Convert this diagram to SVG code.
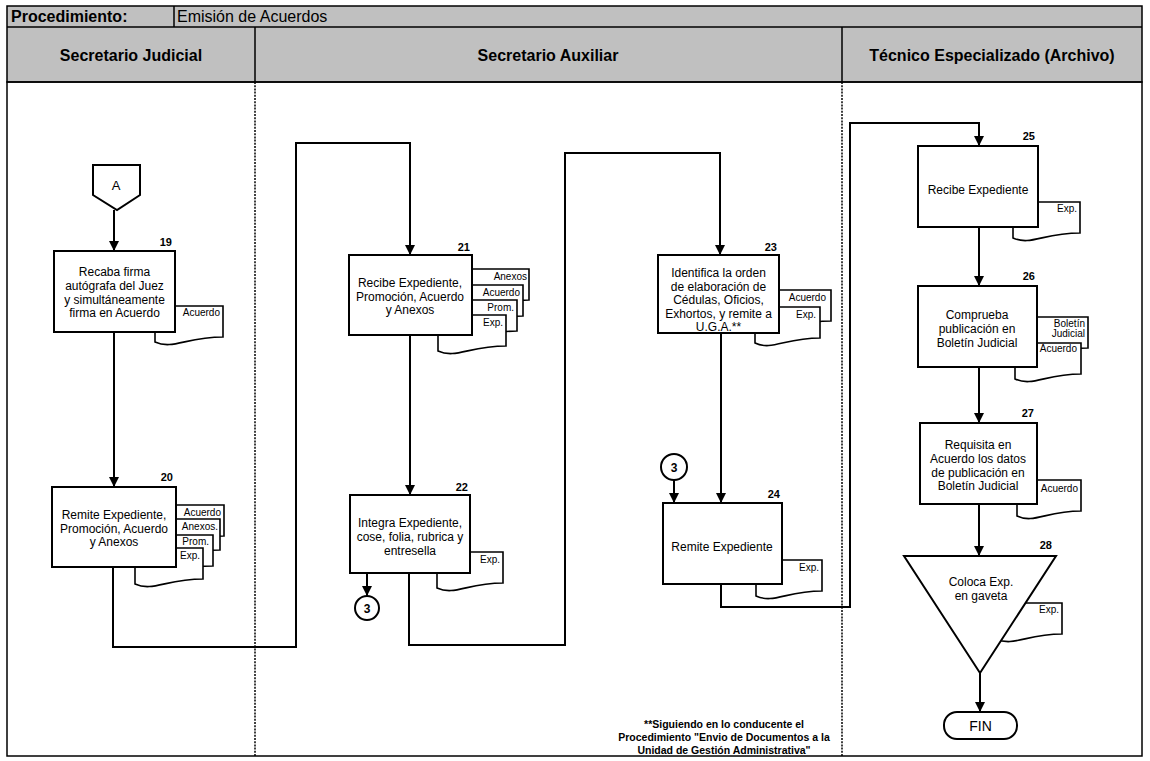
<svg xmlns="http://www.w3.org/2000/svg" width="1150" height="761" viewBox="0 0 1150 761">
<style>
text{font-family:"Liberation Sans",Arial,sans-serif;fill:#000}
.hdr{font-size:16px;font-weight:bold}
.hdrn{font-size:16px}
.box{fill:#fff;stroke:#000;stroke-width:2}
.doc{fill:#fff;stroke:#000;stroke-width:1.6}
.t{font-size:12px;text-anchor:middle}
.d{font-size:10px;text-anchor:end}
.n{font-size:11px;font-weight:bold;text-anchor:end}
.ln{fill:none;stroke:#000;stroke-width:2}
.lane{stroke:#000;stroke-width:1.5;stroke-dasharray:2,1.2}
.foot{font-size:10.5px;font-weight:bold;text-anchor:middle}
</style>
<defs>
<marker id="ah" viewBox="0 0 10 10" refX="10" refY="5" markerWidth="5" markerHeight="5" orient="auto" markerUnits="strokeWidth">
<path d="M0,0 L10,5 L0,10 Z" fill="#000"/>
</marker>
</defs>
<rect x="0" y="0" width="1150" height="761" fill="#fff"/>
<g id="frame">
<rect x="7" y="6" width="1135" height="76" fill="#c0c0c0" stroke="#000" stroke-width="1.5"/>
<line x1="7" y1="27" x2="1142" y2="27" stroke="#000" stroke-width="1.5"/>
<line x1="174" y1="6" x2="174" y2="27" stroke="#000" stroke-width="1.5"/>
<line x1="255" y1="27" x2="255" y2="82" stroke="#000" stroke-width="1.5"/>
<line x1="842" y1="27" x2="842" y2="82" stroke="#000" stroke-width="1.5"/>
<rect x="7" y="82" width="1135" height="674" fill="none" stroke="#000" stroke-width="1.5"/>
<line class="lane" x1="255" y1="82" x2="255" y2="756"/>
<line class="lane" x1="842" y1="82" x2="842" y2="756"/>
<text class="hdr" x="11" y="22">Procedimiento:</text>
<text class="hdrn" x="177" y="22">Emisión de Acuerdos</text>
<text class="hdr" x="131" y="61" text-anchor="middle">Secretario Judicial</text>
<text class="hdr" x="548" y="61" text-anchor="middle">Secretario Auxiliar</text>
<text class="hdr" x="992" y="61" text-anchor="middle">Técnico Especializado (Archivo)</text>
</g>
<g id="connectors">
<line class="ln" x1="114" y1="210" x2="114" y2="251" marker-end="url(#ah)"/>
<line class="ln" x1="114" y1="332" x2="114" y2="487" marker-end="url(#ah)"/>
<polyline class="ln" points="113,567 113,647 296,647 296,143 410,143 410,255" marker-end="url(#ah)"/>
<line class="ln" x1="410" y1="335" x2="410" y2="495" marker-end="url(#ah)"/>
<line class="ln" x1="367" y1="573" x2="367" y2="596" marker-end="url(#ah)"/>
<polyline class="ln" points="409,573 409,645 565,645 565,153 720,153 720,255" marker-end="url(#ah)"/>
<line class="ln" x1="721" y1="333" x2="721" y2="503" marker-end="url(#ah)"/>
<line class="ln" x1="674" y1="480" x2="674" y2="503" marker-end="url(#ah)"/>
<polyline class="ln" points="721,584 721,607 850,607 850,123 979,123 979,146" marker-end="url(#ah)"/>
<line class="ln" x1="979" y1="227" x2="979" y2="286" marker-end="url(#ah)"/>
<line class="ln" x1="979" y1="367" x2="979" y2="423" marker-end="url(#ah)"/>
<line class="ln" x1="979" y1="504" x2="979" y2="556" marker-end="url(#ah)"/>
<line class="ln" x1="980" y1="673" x2="980" y2="712" marker-end="url(#ah)"/>
</g>
<g id="nodeA">
<path class="box" d="M93,165 H140 V195 L117,210 L93,195 Z"/>
<text x="116" y="190" font-size="13" text-anchor="middle">A</text>
</g>
<g id="node19">
<path class="doc" d="M155,306 H223 V337 C186,337 173,350 155,342 Z"/>
<rect class="box" x="54" y="251" width="121" height="81"/>
<text class="d" x="220" y="316" font-size="8">Acuerdo</text>
<text class="n" x="172" y="246">19</text>
<text class="t"><tspan x="114.5" y="276">Recaba firma</tspan><tspan x="114.5" y="290">autógrafa del Juez</tspan><tspan x="114.5" y="303.5">y simultáneamente</tspan><tspan x="114.5" y="317">firma en Acuerdo</tspan></text>
</g>
<g id="node20">
<path class="doc" d="M156,505 H224 V536 C187,536 174,549 156,541 Z"/>
<path class="doc" d="M152,519 H220 V550 C183,550 170,563 152,555 Z"/>
<path class="doc" d="M145,535 H213 V566 C176,566 163,579 145,571 Z"/>
<path class="doc" d="M135,548 H203 V579 C166,579 153,592 135,584 Z"/>
<rect class="box" x="52" y="487" width="124" height="80"/>
<text class="d" x="221" y="516">Acuerdo</text>
<text class="d" x="218" y="530">Anexos.</text>
<text class="d" x="209" y="545">Prom.</text>
<text class="d" x="200" y="559">Exp.</text>
<text class="n" x="173" y="481">20</text>
<text class="t"><tspan x="114" y="519">Remite Expediente,</tspan><tspan x="114" y="532.5">Promoción, Acuerdo</tspan><tspan x="114" y="546">y Anexos</tspan></text>
</g>
<g id="node21">
<path class="doc" d="M461,269 H529 V300 C492,300 479,313 461,305 Z"/>
<path class="doc" d="M455,285 H523 V316 C486,316 473,329 455,321 Z"/>
<path class="doc" d="M449,300 H517 V331 C480,331 467,344 449,336 Z"/>
<path class="doc" d="M438,315 H506 V346 C469,346 456,359 438,351 Z"/>
<rect class="box" x="349" y="255" width="123" height="80"/>
<text class="d" x="527" y="280">Anexos</text>
<text class="d" x="520" y="296">Acuerdo</text>
<text class="d" x="514" y="311">Prom.</text>
<text class="d" x="503" y="326">Exp.</text>
<text class="n" x="470" y="251">21</text>
<text class="t" font-size="12.4"><tspan x="410" y="287">Recibe Expediente,</tspan><tspan x="410" y="300.5">Promoción, Acuerdo</tspan><tspan x="410" y="314">y Anexos</tspan></text>
</g>
<g id="node22">
<path class="doc" d="M437,552 H503 V583 C467,583 455,596 437,588 Z"/>
<rect class="box" x="350" y="495" width="120" height="78"/>
<text class="d" x="500" y="563">Exp.</text>
<text class="n" x="468" y="491">22</text>
<text class="t" font-size="12.4"><tspan x="410" y="527">Integra Expediente,</tspan><tspan x="410" y="541">cose, folia, rubrica y</tspan><tspan x="410" y="554.5">entresella</tspan></text>
</g>
<g id="conn3a">
<circle cx="367" cy="608" r="12" fill="#fff" stroke="#000" stroke-width="2"/>
<text x="367" y="612.5" font-size="12" font-weight="bold" text-anchor="middle">3</text>
</g>
<g id="node23">
<path class="doc" d="M763,290 H831 V321 C794,321 781,334 763,326 Z"/>
<path class="doc" d="M755,307 H820 V338 C785,338 772,351 755,343 Z"/>
<rect class="box" x="658" y="255" width="121" height="78"/>
<text class="d" x="826" y="301">Acuerdo</text>
<text class="d" x="816" y="318">Exp.</text>
<text class="n" x="777" y="251">23</text>
<text class="t" font-size="12.4"><tspan x="718.5" y="277">Identifica la orden</tspan><tspan x="718.5" y="290.5">de elaboración  de</tspan><tspan x="718.5" y="304">Cédulas, Oficios,</tspan><tspan x="718.5" y="317.5">Exhortos, y remite a</tspan><tspan x="718.5" y="331">U.G.A.**</tspan></text>
</g>
<g id="conn3b">
<circle cx="674" cy="467" r="13" fill="#fff" stroke="#000" stroke-width="2"/>
<text x="674" y="471.5" font-size="12" font-weight="bold" text-anchor="middle">3</text>
</g>
<g id="node24">
<path class="doc" d="M756,560 H822 V591 C786,591 774,604 756,596 Z"/>
<rect class="box" x="663" y="503" width="119" height="81"/>
<text class="d" x="819" y="571">Exp.</text>
<text class="n" x="780" y="498">24</text>
<text class="t" font-size="12.4" x="722" y="551">Remite Expediente</text>
</g>
<g id="node25">
<path class="doc" d="M1013,202 H1080 V233 C1043,233 1031,246 1013,238 Z"/>
<rect class="box" x="918" y="146" width="120" height="81"/>
<text class="d" x="1077" y="212">Exp.</text>
<text class="n" x="1035" y="140">25</text>
<text class="t" font-size="12" x="978" y="194">Recibe Expediente</text>
</g>
<g id="node26">
<path class="doc" d="M1020,317 H1088 V348 C1051,348 1038,361 1020,353 Z"/>
<path class="doc" d="M1015,343 H1081 V374 C1045,374 1033,387 1015,379 Z"/>
<rect class="box" x="918" y="286" width="119" height="81"/>
<text class="d" x="1085" y="327" font-size="9">Boletín</text>
<text class="d" x="1085" y="337" font-size="9">Judicial</text>
<text class="d" x="1077" y="352">Acuerdo</text>
<text class="n" x="1035" y="280">26</text>
<text class="t" font-size="12.4"><tspan x="977" y="319">Comprueba</tspan><tspan x="977" y="333">publicación en</tspan><tspan x="977" y="347">Boletín  Judicial</tspan></text>
</g>
<g id="node27">
<path class="doc" d="M1017,480 H1081 V511 C1046,511 1034,524 1017,516 Z"/>
<rect class="box" x="920" y="423" width="117" height="81"/>
<text class="d" x="1078" y="492">Acuerdo</text>
<text class="n" x="1034" y="417">27</text>
<text class="t" font-size="12.4"><tspan x="978" y="449">Requisita  en</tspan><tspan x="978" y="463">Acuerdo los datos</tspan><tspan x="978" y="476.5">de publicación  en</tspan><tspan x="978" y="490">Boletín  Judicial</tspan></text>
</g>
<g id="node28">
<path class="doc" d="M996,603 H1062 V634 C1026,634 1014,647 996,639 Z"/>
<path class="box" d="M904,556 H1056 L980,673 Z"/>
<text class="d" x="1059" y="613">Exp.</text>
<text class="n" x="1052" y="549">28</text>
<text class="t" font-size="12.4"><tspan x="981" y="586">Coloca  Exp.</tspan><tspan x="981" y="599.5">en gaveta</tspan></text>
</g>
<g id="fin">
<rect class="box" x="944" y="712" width="73" height="27" rx="13" ry="13"/>
<text x="980.5" y="731" font-size="14" text-anchor="middle">FIN</text>
</g>
<g id="footnote">
<text class="foot"><tspan x="724" y="728">**Siguiendo en lo conducente el</tspan><tspan x="724" y="741">Procedimiento "Envio de Documentos a la</tspan><tspan x="724" y="754">Unidad de Gestión Administrativa"</tspan></text>
</g>
</svg>
